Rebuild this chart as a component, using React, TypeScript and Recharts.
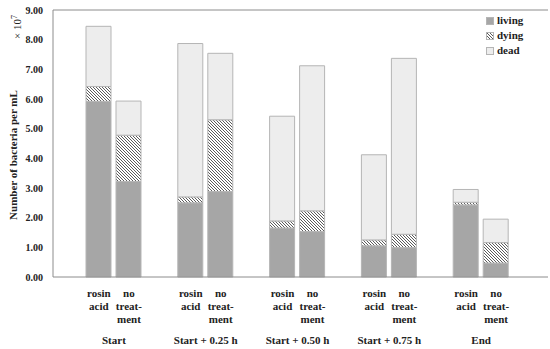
import { BarChart, Bar, XAxis, YAxis, ReferenceLine } from "recharts";

const groups = ["Start", "Start + 0.25 h", "Start + 0.50 h", "Start + 0.75 h", "End"];

// x 10^7 bacteria per mL
const rosinLiving = [5.92, 2.5, 1.65, 1.05, 2.43];
const rosinDying = [0.5, 0.2, 0.24, 0.2, 0.09];
const rosinDead = [2.03, 5.17, 3.53, 2.87, 0.43];
const noLiving = [3.22, 2.88, 1.53, 0.99, 0.47];
const noDying = [1.56, 2.42, 0.7, 0.45, 0.69];
const noDead = [1.15, 2.24, 4.89, 5.93, 0.79];

const yTicks = [0, 1, 2, 3, 4, 5, 6, 7, 8, 9];

const data = groups.map((g, i) => ({
  group: g,
  rLiving: rosinLiving[i],
  rDying: rosinDying[i],
  rDead: rosinDead[i],
  nLiving: noLiving[i],
  nDying: noDying[i],
  nDead: noDead[i],
}));

const FONT = "'Liberation Serif', 'DejaVu Serif', serif";
const LIVING = "#a6a6a6";
const DEAD = "#ededed";
const EDGE = "#b5b5b5";
const AXIS = "#8c8c8c";

function GroupTick(props: any) {
  const { x, y, payload } = props;
  const style = { fontFamily: FONT, fontSize: 11, fontWeight: 700, fill: "#222" } as const;
  return (
    <g>
      <text x={x - 15} y={y + 18} textAnchor="middle" style={style}>rosin</text>
      <text x={x - 15} y={y + 31} textAnchor="middle" style={style}>acid</text>
      <text x={x + 15} y={y + 18} textAnchor="middle" style={style}>no</text>
      <text x={x + 15} y={y + 31} textAnchor="middle" style={style}>treat-</text>
      <text x={x + 15} y={y + 44} textAnchor="middle" style={style}>ment</text>
      <text x={x} y={y + 65} textAnchor="middle" style={style}>{payload.value}</text>
    </g>
  );
}

const legendItems = [
  { name: "living", fill: LIVING },
  { name: "dying", fill: "url(#hatch)" },
  { name: "dead", fill: DEAD },
];

function LegendBox() {
  return (
    <div
      style={{
        position: "absolute",
        left: 486,
        top: 13,
        fontFamily: FONT,
        fontSize: 11,
        fontWeight: 700,
        color: "#222",
        lineHeight: "15px",
      }}
    >
      {legendItems.map((it) => (
        <div key={it.name} style={{ display: "flex", alignItems: "center", height: 15 }}>
          <svg width={8} height={8} style={{ marginRight: 3 }}>
            <rect x={0.5} y={0.5} width={7} height={7} fill={it.fill} stroke={EDGE} />
          </svg>
          <span>{it.name}</span>
        </div>
      ))}
    </div>
  );
}

export default function App() {
  const barProps = { isAnimationActive: false, stroke: EDGE, strokeWidth: 1, barSize: 25 };
  return (
    <div style={{ position: "fixed", left: 0, top: 0, width: 550, height: 349, background: "#fff" }}>
      <svg width={0} height={0} style={{ position: "absolute" }}>
        <defs>
          <pattern id="hatch" patternUnits="userSpaceOnUse" width={3} height={3}>
            <rect width={3} height={3} fill="#fff" />
            <path d="M-1,-1 L4,4 M-1,2 L1,4 M2,-1 L4,1" stroke="#5a5a5a" strokeWidth={1} />
          </pattern>
        </defs>
      </svg>
      <svg width={30} height={349} style={{ position: "absolute", left: 0, top: 0 }}>
        <text
          transform="translate(17,155) rotate(-90)"
          textAnchor="middle"
          style={{ fontFamily: FONT, fontSize: 11, fontWeight: 700, fill: "#222" }}
        >
          Number of bacteria per mL
        </text>
        <text
          transform="translate(21,27) rotate(-90)"
          textAnchor="middle"
          style={{ fontFamily: FONT, fontSize: 11, fill: "#222" }}
        >
          × 10<tspan dy={-4} fontSize={8}>7</tspan>
        </text>
      </svg>
      <BarChart
        width={550}
        height={349}
        data={data}
        barGap={5}
        margin={{ top: 10, right: 2, left: 0, bottom: 0 }}
        style={{ position: "absolute", left: 0, top: 0 }}
      >
        <XAxis
          dataKey="group"
          height={72}
          padding={{ left: 15, right: 21 }}
          axisLine={{ stroke: AXIS }}
          tickLine={false}
          tickSize={0}
          tick={<GroupTick />}
          interval={0}
        />
        <YAxis
          yAxisId="l"
          width={53}
          domain={[0, 9]}
          ticks={yTicks}
          tickFormatter={(v: number) => v.toFixed(2)}
          axisLine={{ stroke: AXIS }}
          tickLine={false}
          tickSize={4}
          tickMargin={6}
          tick={{ fontFamily: FONT, fontSize: 10, fontWeight: 700, fill: "#222" }}
        />
        <YAxis yAxisId="r" orientation="right" width={0} domain={[0, 9]} tick={false} axisLine={{ stroke: AXIS }} tickLine={false} />
        <ReferenceLine yAxisId="l" y={9} stroke={AXIS} />
        <Bar yAxisId="l" dataKey="rLiving" stackId="r" fill={LIVING} {...barProps} />
        <Bar yAxisId="l" dataKey="rDying" stackId="r" fill="url(#hatch)" {...barProps} />
        <Bar yAxisId="l" dataKey="rDead" stackId="r" fill={DEAD} {...barProps} />
        <Bar yAxisId="l" dataKey="nLiving" stackId="n" fill={LIVING} {...barProps} />
        <Bar yAxisId="l" dataKey="nDying" stackId="n" fill="url(#hatch)" {...barProps} />
        <Bar yAxisId="l" dataKey="nDead" stackId="n" fill={DEAD} {...barProps} />
      </BarChart>
      <LegendBox />
    </div>
  );
}
